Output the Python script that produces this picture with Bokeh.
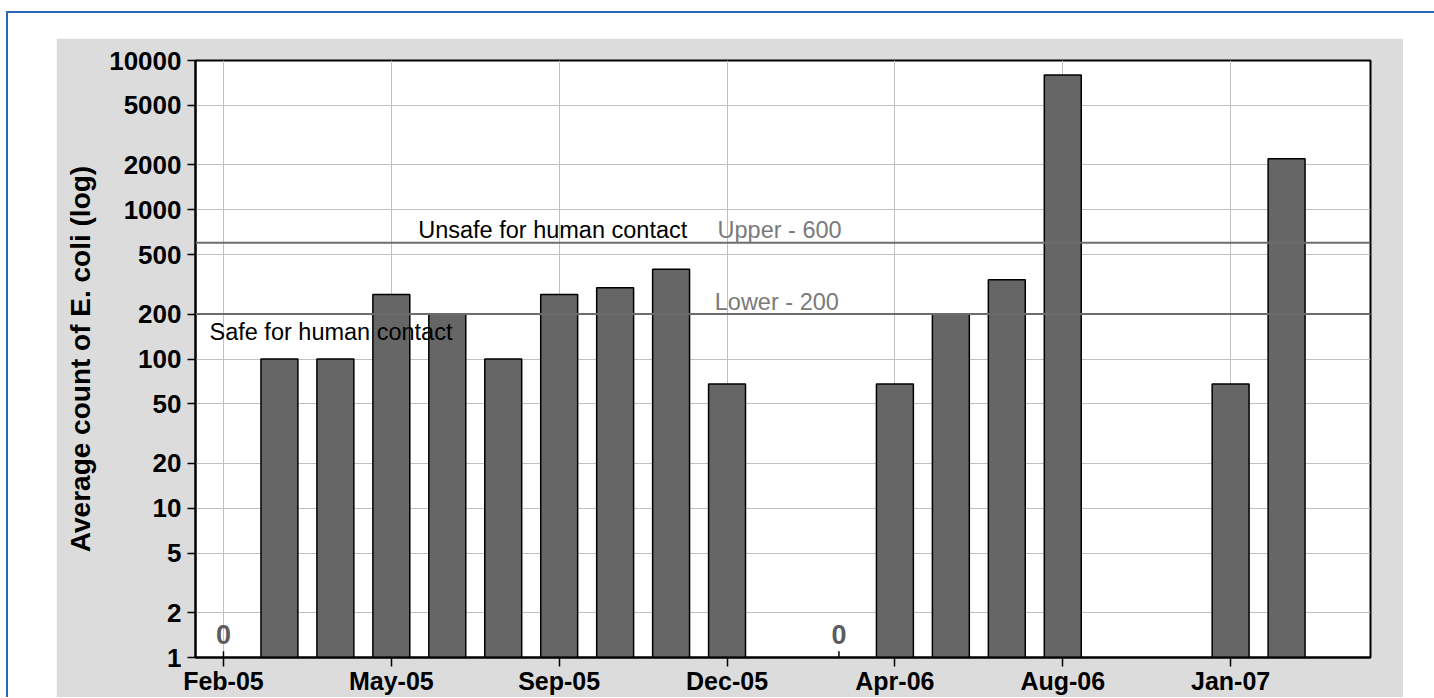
from bokeh.plotting import figure
from bokeh.models import (Range1d, FixedTicker, NumeralTickFormatter, Span, Label,
                          ColumnDataSource)
from bokeh.layouts import column
from bokeh.embed import file_html
from bokeh.resources import INLINE
from bokeh.core.properties import value

# ---------------- data ----------------
sample_index = list(range(21))
counts = [0, 100, 100, 270, 200, 100, 270, 300, 400, 68, None,
          0, 68, 200, 340, 8000, None, None, 68, 2200, None]
tick_positions = [0, 3, 6, 9, 12, 15, 18]
tick_labels = ["Feb-05", "May-05", "Sep-05", "Dec-05", "Apr-06", "Aug-06", "Jan-07"]
y_ticks = [1, 2, 5, 10, 20, 50, 100, 200, 500, 1000, 2000, 5000, 10000]
upper_limit = 600
lower_limit = 200

FONT = "Liberation Sans"

bar_x = [i for i, c in zip(sample_index, counts) if c not in (None, 0)]
bar_top = [c for c in counts if c not in (None, 0)]
zero_x = [i for i, c in zip(sample_index, counts) if c == 0]

bars = ColumnDataSource(dict(x=bar_x, top=bar_top, bottom=[1] * len(bar_x)))
zeros = ColumnDataSource(dict(x=zero_x, y=[1] * len(zero_x), t=["0"] * len(zero_x),
                              y1=[1.1] * len(zero_x)))

p = figure(width=1347, height=659,
           x_range=Range1d(-0.5, 20.5), y_range=Range1d(1, 10000),
           y_axis_type="log", output_backend="svg", toolbar_location=None,
           min_border_left=139, min_border_right=33, min_border_top=22,
           min_border_bottom=39)
p.margin = (27, 0, 0, 50)
p.border_fill_color = "#dcdcdc"
p.background_fill_color = "white"
p.outline_line_color = "black"
p.outline_line_width = 2

# grid
for g in (p.xgrid, p.ygrid):
    g.grid_line_color = "#c0c0c0"
    g.grid_line_width = 1

# x axis
xa = p.xaxis[0]
xa.ticker = FixedTicker(ticks=tick_positions)
xa.major_label_overrides = {pos: lab for pos, lab in zip(tick_positions, tick_labels)}
xa.major_tick_in = 0
xa.major_tick_out = 9
xa.major_tick_line_width = 1.5
xa.minor_tick_line_color = None
xa.axis_line_width = 2
xa.major_label_standoff = 0
xa.major_label_text_font = FONT
xa.major_label_text_font_style = "bold"
xa.major_label_text_font_size = "25px"
xa.major_label_text_color = "black"

# y axis
ya = p.yaxis[0]
ya.ticker = FixedTicker(ticks=y_ticks)
ya.formatter = NumeralTickFormatter(format="0")
ya.major_tick_in = 0
ya.major_tick_out = 8
ya.major_tick_line_width = 1.5
ya.minor_tick_line_color = None
ya.axis_line_width = 2
ya.major_label_standoff = 6
ya.major_label_text_font = FONT
ya.major_label_text_font_style = "bold"
ya.major_label_text_font_size = "26px"
ya.major_label_text_color = "black"
ya.axis_label = "Average count of E. coli (log)"
ya.axis_label_text_font = FONT
ya.axis_label_text_font_style = "bold"
ya.axis_label_text_font_size = "28px"
ya.axis_label_text_color = "black"
ya.axis_label_standoff = 10

# threshold lines
for lim in (upper_limit, lower_limit):
    p.add_layout(Span(location=lim, dimension="width", line_color="#6c6c6c", line_width=2))

# bars
p.vbar(x="x", top="top", bottom="bottom", width=0.66, source=bars,
       fill_color="#666666", line_color="black", line_width=1.5)

# zero markers
p.segment(x0="x", y0="y", x1="x", y1="y1", source=zeros, line_color="black", line_width=1.5)
p.text(x="x", y="y", text="t", source=zeros, text_align="center",
       text_baseline="alphabetic", y_offset=-23,
       text_font=value(FONT), text_font_style="bold", text_font_size="27px",
       text_color="#5c5c5c")

# annotations
ann = dict(text_font=FONT, text_font_size="23.5px", text_baseline="middle")
p.add_layout(Label(x=3.48, y=upper_limit, y_offset=13, text="Unsafe for human contact",
                   text_color="black", **ann))
p.add_layout(Label(x=8.83, y=upper_limit, y_offset=13, text="Upper - 600",
                   text_color="#7a7a7a", **ann))
p.add_layout(Label(x=8.78, y=lower_limit, y_offset=12, text="Lower - 200",
                   text_color="#7a7a7a", **ann))
p.add_layout(Label(x=-0.25, y=lower_limit, y_offset=-18, text="Safe for human contact",
                   text_color="black", **ann))

layout = column(p, width=1440, styles={
    "background-color": "white",
    "box-shadow": "inset 2px 2px 0 0 #2a67b8",
    "margin-top": "11px",
    "margin-left": "6px",
})

open("out.html", "w").write(file_html(layout, INLINE))
